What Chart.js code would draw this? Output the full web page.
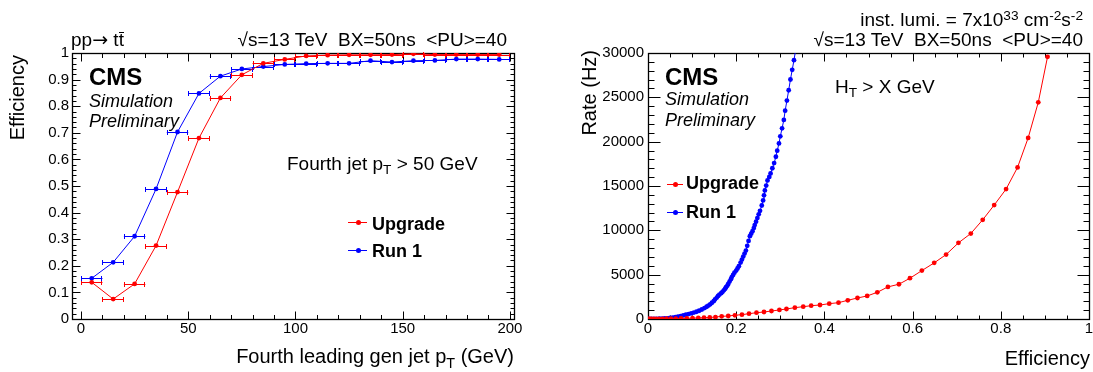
<!DOCTYPE html>
<html>
<head>
<meta charset="utf-8">
<script src="https://cdn.jsdelivr.net/npm/chart.js@4.4.1/dist/chart.umd.min.js"></script>
<style>
  html, body { margin:0; padding:0; background:#fff; }
  #wrap { position:relative; width:1093px; height:372px; background:#fff; overflow:hidden; }
  canvas { position:absolute; top:0; }
  .t { position:absolute; font-family:'Liberation Sans', Arial, Helvetica, sans-serif; line-height:1; white-space:pre; color:#000; z-index:2; }
  .sub { position:relative; top:0.32em; font-size:0.72em; line-height:0; }
  .sup { position:relative; top:-0.45em; font-size:0.72em; line-height:0; }
  .tbar { position:relative; }
  .tbar::after { content:''; position:absolute; left:0; right:0; top:0.16em; border-top:1px solid #000; }
  .arrow { font-family:'DejaVu Sans', sans-serif; }
  .rot { transform:rotate(-90deg); transform-origin:50% 50%; text-align:right; }
  .lg { position:absolute; z-index:2; }
</style>
</head>
<body>
<div id="wrap">
  <canvas id="c1" width="546" height="372" style="left:0px;width:546px;height:372px"></canvas>
  <canvas id="c2" width="547" height="372" style="left:546px;width:547px;height:372px"></canvas>

  <!-- left panel texts -->
  <div class="t" style="left:71px;top:30px;font-size:19px">pp<span class="arrow">→</span> t<span class="tbar">t</span></div>
  <div class="t" style="right:586px;top:30px;font-size:19px">√s=13 TeV  BX=50ns  &lt;PU&gt;=40</div>
  <div class="t" style="left:89px;top:65px;font-size:24px;font-weight:bold">CMS</div>
  <div class="t" style="left:89px;top:91.5px;font-size:18px;font-style:italic">Simulation</div>
  <div class="t" style="left:89px;top:111.5px;font-size:18px;font-style:italic">Preliminary</div>
  <div class="t" style="left:287px;top:154px;font-size:19px">Fourth jet p<span class="sub">T</span> &gt; 50 GeV</div>
  <div class="t" style="left:372px;top:215px;font-size:18px;font-weight:bold">Upgrade</div>
  <div class="t" style="left:372px;top:241.5px;font-size:18px;font-weight:bold">Run 1</div>
  <div class="lg" style="left:348px;top:222px;width:19px;height:1px;background:#ff0000"></div>
  <div class="lg" style="left:355.5px;top:220px;width:5px;height:5px;border-radius:50%;background:#ff0000"></div>
  <div class="lg" style="left:348px;top:250px;width:19px;height:1px;background:#0000ff"></div>
  <div class="lg" style="left:355.5px;top:248px;width:5px;height:5px;border-radius:50%;background:#0000ff"></div>
  <div class="t" style="right:579px;top:346px;font-size:20px">Fourth leading gen jet p<span class="sub">T</span> (GeV)</div>
  <div class="t rot" style="left:-53px;top:115px;width:140px;height:20px;font-size:20px">Efficiency</div>

  <!-- right panel texts -->
  <div class="t" style="right:10px;top:10px;font-size:19px">inst. lumi. = 7x10<span class="sup">33</span> cm<span class="sup">-2</span>s<span class="sup">-2</span></div>
  <div class="t" style="right:10px;top:30px;font-size:19px">√s=13 TeV  BX=50ns  &lt;PU&gt;=40</div>
  <div class="t" style="left:665px;top:65px;font-size:24px;font-weight:bold">CMS</div>
  <div class="t" style="left:665px;top:90px;font-size:18px;font-style:italic">Simulation</div>
  <div class="t" style="left:665px;top:111px;font-size:18px;font-style:italic">Preliminary</div>
  <div class="t" style="left:835px;top:76.5px;font-size:19px">H<span class="sub">T</span> &gt; X GeV</div>
  <div class="t" style="left:686px;top:174px;font-size:18px;font-weight:bold">Upgrade</div>
  <div class="t" style="left:686px;top:202.5px;font-size:18px;font-weight:bold">Run 1</div>
  <div class="lg" style="left:667px;top:184px;width:16px;height:1px;background:#ff0000"></div>
  <div class="lg" style="left:672.5px;top:182px;width:5px;height:5px;border-radius:50%;background:#ff0000"></div>
  <div class="lg" style="left:667px;top:212px;width:16px;height:1px;background:#0000ff"></div>
  <div class="lg" style="left:672.5px;top:210px;width:5px;height:5px;border-radius:50%;background:#0000ff"></div>
  <div class="t" style="right:3px;top:348px;font-size:20px">Efficiency</div>
  <div class="t rot" style="left:519px;top:110px;width:140px;height:20px;font-size:20px">Rate (Hz)</div>
</div>

<script>
// ---------------- DATA ----------------
// Left panel: efficiency vs fourth leading gen jet pT
const ptBinCenters = [5, 15, 25, 35, 45, 55, 65, 75, 85, 95, 105, 115, 125, 135, 145, 155, 165, 175, 185, 195];
const ptBinHalfWidths = [5, 5, 5, 5, 5, 5, 5, 5, 5, 5, 5, 5, 5, 5, 5, 5, 5, 5, 5, 5];
const effUpgrade = [0.138, 0.075, 0.132, 0.276, 0.477, 0.680, 0.831, 0.918, 0.961, 0.976, 0.989, 0.992, 0.993, 0.993, 0.994, 0.997, 0.994, 0.994, 0.994, 0.994];
const effRun1    = [0.153, 0.213, 0.311, 0.489, 0.703, 0.848, 0.913, 0.940, 0.949, 0.957, 0.960, 0.961, 0.961, 0.971, 0.966, 0.971, 0.972, 0.977, 0.977, 0.976];
const leftXTicks = [0, 50, 100, 150, 200];
const leftYTicks = [0, 0.1, 0.2, 0.3, 0.4, 0.5, 0.6, 0.7, 0.8, 0.9, 1];

// Right panel: rate vs efficiency (HT > X GeV scan)
const htEffUpgrade = [0, 0.003, 0.007, 0.012, 0.018, 0.025, 0.033, 0.042, 0.052, 0.063, 0.075, 0.088, 0.101, 0.114, 0.127, 0.140, 0.153, 0.167, 0.182, 0.197, 0.213, 0.229, 0.246, 0.263, 0.280, 0.298, 0.314, 0.333, 0.352, 0.370, 0.390, 0.411, 0.432, 0.453, 0.475, 0.497, 0.520, 0.544, 0.569, 0.594, 0.621, 0.649, 0.676, 0.704, 0.732, 0.759, 0.785, 0.812, 0.838, 0.862, 0.885, 0.906];
const htRateUpgrade = [0, 2, 5, 8, 12, 17, 23, 30, 40, 52, 65, 80, 100, 120, 145, 175, 220, 300, 340, 420, 490, 600, 710, 790, 900, 1020, 1130, 1280, 1390, 1500, 1580, 1730, 1840, 2110, 2370, 2600, 3010, 3620, 3920, 4600, 5460, 6330, 7270, 8590, 9640, 11190, 12850, 14650, 17100, 20420, 24440, 29570];
const htEffRun1 = [0.002, 0.008, 0.014, 0.020, 0.026, 0.032, 0.038, 0.044, 0.050, 0.056, 0.062, 0.068, 0.074, 0.080, 0.086, 0.092, 0.098, 0.104, 0.110, 0.116, 0.122, 0.128, 0.133, 0.137, 0.141, 0.145, 0.149, 0.152, 0.156, 0.159, 0.162, 0.166, 0.169, 0.172, 0.175, 0.177, 0.180, 0.182, 0.185, 0.188, 0.190, 0.193, 0.196, 0.200, 0.203, 0.206, 0.210, 0.213, 0.216, 0.219, 0.222, 0.225, 0.228, 0.231, 0.234, 0.237, 0.240, 0.242, 0.245, 0.248, 0.251, 0.254, 0.258, 0.261, 0.263, 0.265, 0.268, 0.271, 0.275, 0.278, 0.282, 0.286, 0.290, 0.293, 0.297, 0.300, 0.304, 0.308, 0.311, 0.315, 0.319, 0.323, 0.327, 0.331, 0.335];
const htRateRun1 = [5, 10, 15, 20, 30, 40, 55, 75, 110, 150, 200, 260, 320, 400, 480, 560, 640, 720, 820, 930, 1070, 1230, 1380, 1510, 1660, 1830, 2010, 2220, 2420, 2600, 2760, 2910, 3060, 3230, 3420, 3580, 3770, 3960, 4220, 4490, 4730, 4970, 5220, 5460, 5700, 5950, 6360, 6700, 7040, 7380, 7720, 8250, 8800, 9340, 9620, 9910, 10250, 10590, 10980, 11380, 11800, 12200, 12800, 13370, 13950, 14500, 15050, 15630, 16020, 16420, 17000, 17590, 18300, 18980, 19800, 20600, 21500, 22450, 23500, 24630, 25800, 27010, 28100, 29190, 30400];
const rightXTicks = [0, 0.2, 0.4, 0.6, 0.8, 1];
const rightYTicks = [0, 5000, 10000, 15000, 20000, 25000, 30000];

// ---------------- PLUGIN: ROOT-style frame, inner ticks, x error bars ----------------
function stepValues(min, max, step) {
  const out = [];
  for (let k = Math.ceil(min / step - 1e-9); k * step <= max + 1e-9; k++) out.push(k * step);
  return out;
}
const rootFrame = {
  id: 'rootFrame',
  beforeDatasetsDraw(chart, args, o) {
    const { ctx, chartArea: a, scales: { x, y } } = chart;
    ctx.save();
    ctx.strokeStyle = '#000';
    ctx.lineWidth = 1;
    ctx.beginPath();
    const L = Math.round(a.left) + 0.5, R = Math.round(a.right) + 0.5;
    const T = Math.round(a.top) + 0.5, B = Math.round(a.bottom) + 0.5;
    const xt = (v, len) => {
      const p = Math.round(x.getPixelForValue(v)) + 0.5;
      if (p < L - 0.1 || p > R + 0.1) return;
      ctx.moveTo(p, B); ctx.lineTo(p, B - len);
      ctx.moveTo(p, T); ctx.lineTo(p, T + len);
    };
    const yt = (v, len, lenR) => {
      const p = Math.round(y.getPixelForValue(v)) + 0.5;
      if (p < T - 0.1 || p > B + 0.1) return;
      ctx.moveTo(L, p); ctx.lineTo(L + len, p);
      ctx.moveTo(R, p); ctx.lineTo(R - lenR, p);
    };
    stepValues(x.min, x.max, o.xMinor).forEach(v => xt(v, o.xMinorLen));
    stepValues(x.min, x.max, o.xMajor).forEach(v => xt(v, o.xMajorLen));
    stepValues(y.min, y.max, o.yMinor).forEach(v => yt(v, o.yMinorLen, o.yMinorLenR));
    stepValues(y.min, y.max, o.yMajor).forEach(v => yt(v, o.yMajorLen, o.yMajorLenR));
    ctx.stroke();
    ctx.lineWidth = 1.3;
    ctx.strokeRect(L, T, R - L, B - T);
    // x error bars
    chart.data.datasets.forEach(ds => {
      if (!ds.xErr) return;
      ctx.strokeStyle = ds.borderColor;
      ctx.lineWidth = 1;
      ctx.beginPath();
      ds.data.forEach((pt, i) => {
        const x0 = x.getPixelForValue(pt.x - ds.xErr[i]);
        const x1 = x.getPixelForValue(pt.x + ds.xErr[i]);
        const py = Math.round(y.getPixelForValue(pt.y)) + 0.5;
        ctx.moveTo(x0, py); ctx.lineTo(x1, py);
        ctx.moveTo(Math.round(x0) + 0.5, py - 2.5); ctx.lineTo(Math.round(x0) + 0.5, py + 2.5);
        ctx.moveTo(Math.round(x1) - 0.5, py - 2.5); ctx.lineTo(Math.round(x1) - 0.5, py + 2.5);
      });
      ctx.stroke();
    });
    ctx.restore();
  }
};

const FONT = "'Liberation Sans', Arial, Helvetica, sans-serif";
function axis(min, max, tickList, fmt, size, isX, pad) {
  return {
    type: 'linear', min, max,
    grid: { display: false, drawTicks: false },
    border: { display: false },
    ticks: { color: '#000', font: { family: FONT, size: 15 }, padding: pad, autoSkip: false, maxRotation: 0, callback: fmt },
    afterBuildTicks: s => { s.ticks = tickList.map(v => ({ value: v })); },
    afterFit: s => {
      if (isX) s.height = size; else s.width = size;
      s.paddingLeft = 0; s.paddingRight = 0; s.paddingTop = 0; s.paddingBottom = 0;
    }
  };
}
const fmtNum = v => String(Math.round(v * 1000) / 1000);

function line(label, xs, ys, color, r, xErr) {
  const ds = {
    label,
    data: xs.map((xv, i) => ({ x: xv, y: ys[i] })),
    borderColor: color, backgroundColor: color,
    showLine: true, borderWidth: 1, tension: 0,
    pointRadius: r, pointBorderWidth: 0, pointHoverRadius: r
  };
  if (xErr) ds.xErr = xErr;
  return ds;
}

const common = {
  responsive: false, animation: false, devicePixelRatio: 1,
  events: [],
  plugins: { legend: { display: false }, tooltip: { enabled: false } }
};

new Chart(document.getElementById('c1'), {
  type: 'scatter',
  data: { datasets: [
    line('Upgrade', ptBinCenters, effUpgrade, '#ff0000', 2.4, ptBinHalfWidths),
    line('Run 1', ptBinCenters, effRun1, '#0000ff', 2.4, ptBinHalfWidths)
  ] },
  options: Object.assign({}, common, {
    layout: { padding: { left: 0, right: 32, top: 53, bottom: 0 } },
    scales: {
      x: axis(-4.2, 201.9, leftXTicks, fmtNum, 53, true, 1),
      y: axis(0, 1, leftYTicks, fmtNum, 72, false, 3)
    },
    plugins: Object.assign({}, common.plugins, {
      rootFrame: { xMajor: 50, xMinor: 10, yMajor: 0.1, yMinor: 0.02,
                   xMajorLen: 8, xMinorLen: 4.5, yMajorLen: 8, yMinorLen: 4, yMajorLenR: 8, yMinorLenR: 4 }
    })
  }),
  plugins: [rootFrame]
});

new Chart(document.getElementById('c2'), {
  type: 'scatter',
  data: { datasets: [
    line('Upgrade', htEffUpgrade, htRateUpgrade, '#ff0000', 2.4),
    line('Run 1', htEffRun1, htRateRun1, '#0000ff', 2.4)
  ] },
  options: Object.assign({}, common, {
    layout: { padding: { left: 0, right: 4, top: 53, bottom: 0 } },
    scales: {
      x: axis(0, 1, rightXTicks, fmtNum, 53, true, 1),
      y: axis(0, 30000, rightYTicks, fmtNum, 102, false, 4)
    },
    plugins: Object.assign({}, common.plugins, {
      rootFrame: { xMajor: 0.2, xMinor: 0.05, yMajor: 5000, yMinor: 1000,
                   xMajorLen: 8, xMinorLen: 4, yMajorLen: 12, yMinorLen: 6, yMajorLenR: 12, yMinorLenR: 6 }
    })
  }),
  plugins: [rootFrame]
});
</script>
</body>
</html>
